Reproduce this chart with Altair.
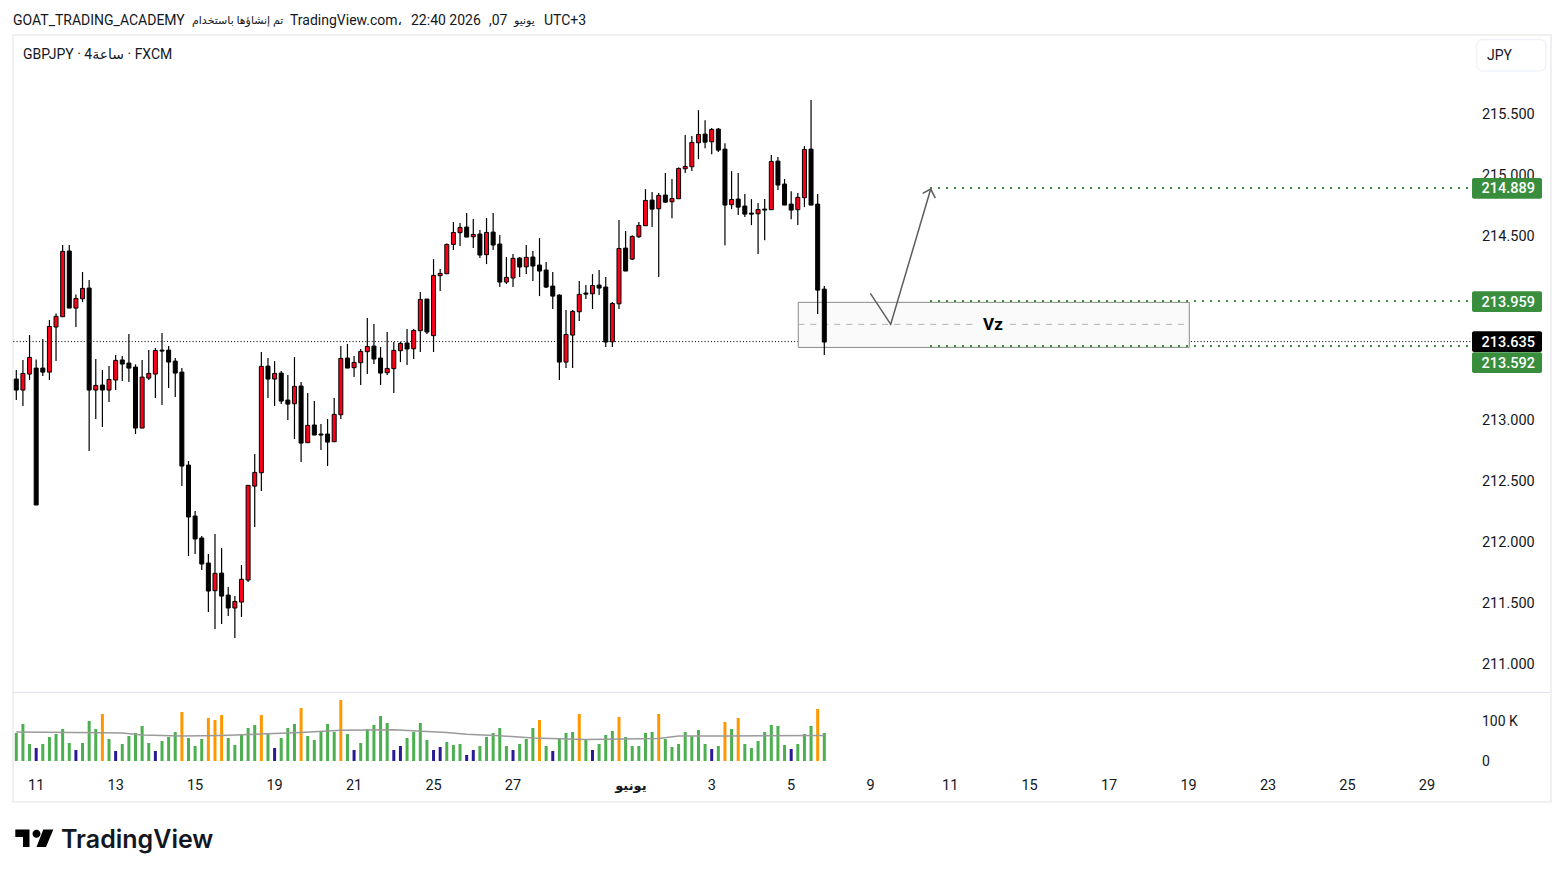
import altair as alt
import pandas as pd

opens = [213.328,213.238,213.369,213.418,213.418,213.385,213.754,213.838,214.376,213.909,
213.985,214.073,213.238,213.279,213.238,213.320,213.484,213.459,213.426,212.927,
213.336,213.369,213.565,213.565,213.475,213.385,212.624,212.207,212.027,211.822,
211.596,211.740,211.560,211.454,211.503,211.683,212.452,212.561,213.434,213.328,
213.377,213.156,213.126,213.271,212.807,212.952,212.878,212.878,212.815,213.036,
213.500,213.421,213.462,213.552,213.598,213.500,213.380,213.413,213.560,213.623,
213.576,213.724,213.983,213.683,214.174,214.190,214.430,214.526,214.572,214.493,
214.515,214.346,214.531,214.433,214.122,214.155,214.318,214.247,214.327,214.261,
214.220,214.089,214.015,213.467,213.688,213.879,214.032,214.026,214.097,214.081,
213.633,213.944,214.400,214.310,214.493,214.583,214.793,214.722,214.834,214.779,
214.804,215.049,215.066,215.262,215.333,215.270,215.374,215.210,214.755,214.801,
214.744,214.686,214.681,214.719,214.714,215.112,214.924,214.760,214.714,214.812,
215.210,214.760,214.064]
closes = [213.238,213.374,213.505,212.297,213.385,213.759,213.841,214.373,213.909,213.988,
214.070,213.238,213.276,213.238,213.325,213.481,213.451,213.418,212.927,213.344,
213.374,213.562,213.557,213.467,213.377,212.616,212.199,212.019,211.814,211.593,
211.738,211.552,211.454,211.508,211.689,212.458,212.564,213.432,213.328,213.374,
213.148,213.123,213.268,212.804,212.949,212.870,212.870,212.812,213.039,213.497,
213.418,213.464,213.554,213.595,213.492,213.377,213.415,213.563,213.620,213.574,
213.726,213.980,213.713,214.176,214.193,214.430,214.528,214.569,214.490,214.512,
214.343,214.528,214.425,214.122,214.160,214.316,214.245,214.324,214.253,214.212,
214.081,214.007,213.467,213.693,213.882,214.021,214.023,214.094,214.073,213.631,
213.947,214.397,214.212,214.495,214.585,214.790,214.719,214.831,214.776,214.806,
215.052,215.068,215.265,215.330,215.267,215.371,215.202,214.752,214.798,214.735,
214.678,214.678,214.716,214.711,215.109,214.916,214.752,214.711,214.815,215.207,
214.752,214.056,213.631]
highs = [213.402,213.484,213.688,213.489,213.655,213.811,213.865,214.425,214.425,214.021,
214.204,214.138,213.492,213.402,213.434,213.524,213.516,213.696,213.448,213.484,
213.565,213.582,213.705,213.598,213.500,213.418,212.657,212.248,212.043,211.896,
212.059,211.945,211.626,211.552,211.806,212.458,212.714,213.549,213.500,213.475,
213.394,213.361,213.508,213.304,213.214,213.148,212.960,213.001,213.173,213.598,
213.615,213.516,213.574,213.827,213.778,213.590,213.713,213.631,213.631,213.737,
213.737,214.040,213.983,214.310,214.228,214.438,214.613,214.605,214.687,214.638,
214.547,214.646,214.687,214.507,214.327,214.351,214.327,214.425,214.376,214.482,
214.286,214.204,214.023,213.893,213.893,214.130,214.097,214.187,214.220,214.163,
213.958,214.629,214.539,214.506,214.613,214.883,214.858,214.850,215.014,214.965,
215.060,215.325,215.317,215.529,215.447,215.382,215.382,215.259,215.030,215.014,
214.842,214.801,214.768,214.801,215.161,215.145,214.965,214.866,214.850,215.235,
215.611,214.842,214.089]
lows = [213.156,213.107,213.320,212.297,213.353,213.320,213.475,213.838,213.909,213.754,
213.958,212.739,213.001,212.935,213.140,213.238,213.312,213.303,212.878,212.927,
213.320,213.173,213.115,213.254,213.181,212.452,211.879,211.896,211.765,211.421,
211.282,211.323,211.388,211.208,211.380,211.667,212.117,212.412,213.173,213.107,
213.123,212.993,212.837,212.649,212.807,212.870,212.747,212.616,212.815,213.001,
213.418,213.344,213.279,213.369,213.451,213.279,213.361,213.214,213.467,213.443,
213.492,213.549,213.696,213.549,214.048,214.190,214.384,214.417,214.490,214.400,
214.318,214.269,214.384,214.081,214.106,214.081,214.163,214.187,214.130,214.007,
214.073,213.901,213.320,213.418,213.418,213.803,213.983,213.901,214.015,213.590,
213.590,213.901,214.212,214.302,214.482,214.583,214.572,214.163,214.768,214.645,
214.804,215.014,215.030,215.128,215.218,215.169,215.186,214.424,214.719,214.670,
214.654,214.588,214.351,214.465,214.714,214.875,214.752,214.637,214.588,214.735,
214.752,213.860,213.524]

volumes = [70,92.5,42.5,32.5,42.5,60,67.5,80,45,27.5,
45,100,80,117.5,55,25,42.5,62.5,70,87.5,
45,25,50,60,72.5,122.5,57.5,37.5,55,107.5,
102.5,115,57.5,40,65,82.5,90,115,70,32.5,
57.5,82.5,92.5,132.5,62.5,52.5,75,92.5,72.5,152.5,
67.5,27.5,45,80,90,112.5,95,27.5,37.5,57.5,
72.5,95,52.5,27.5,35,47.5,40,42.5,15,27.5,
37.5,60,70,82.5,37.5,27.5,42.5,55,82.5,102.5,
37.5,25,57.5,70,72.5,117.5,52.5,27.5,42.5,65,
75,110,60,37.5,37.5,70,72.5,117.5,55,35,
42.5,72.5,62.5,77.5,42.5,30,37.5,97.5,80,107.5,
42.5,32.5,50,72.5,90,87.5,40,30,42.5,67.5,
87.5,130,70]
volume_kinds = list("gggbgggggb" "gggogbgggg" "gbgggogggo" "oogggggogb" "gggogggggo" "gbgggggbbg"
                    "gggbbgggbb" "gggggbgggo" "gbgggogbgg" "gogggggogg" "gggggbgogo" "gggggggbgg" "gog")
ma_bars = [1,14,17,20,26,32,44,50,58,63,66,69,74,79,87,98,101,108,123]
ma_values = [72.5,70.8,70,65,62.5,64,71,76.7,78.3,74,71,66.7,63,57.5,54,56,62.5,62.5,64]

price_ticks = [215.5,215.0,214.5,213.0,212.5,212.0,211.5,211.0]
price_tick_labels = ["215.500","215.000","214.500","213.000","212.500","212.000","211.500","211.000"]
volume_ticks = [100,0]
volume_tick_labels = ["100 K","0"]
date_bars = [4,16,28,40,52,64,76,106,118,130,142,154,166,178,190,202,214]
date_labels = ["11","13","15","19","21","25","27","3","5","9","11","15","17","19","23","25","29"]
month_bar = 93.8
month_label = "يونيو"
tag_labels = ["214.889","213.959","213.635","213.592"]
tag_prices = [214.889,213.962,213.635,213.463]
tag_colors = ["#388e3c","#388e3c","#000000","#388e3c"]
level_prices = [214.891,213.966,213.598]
last_price = 213.635
zone_top, zone_bottom, zone_mid = 213.956, 213.587, 213.776
arrow_bars = [129.95,133.03,139.07]
arrow_prices = [214.029,213.776,214.883]
head_bars = [137.86,139.07,139.76]
head_prices = [214.848,214.883,214.809]
header_pieces = ["GOAT_TRADING_ACADEMY", "تم إنشاؤها باستخدام", "TradingView.com،", "22:40 2026", ",07", "يونيو", "UTC+3"]
header_x = [13, 192, 290, 411, 489, 514, 544]
header_sizes = [14, 11, 14, 14, 14, 11, 14]
legend = "GBPJPY · 4ساعة · FXCM"

FONT = "Roboto, DejaVu Sans"
INK = "#131722"
W, H = 1548, 861
one = pd.DataFrame({"a": [0]})

bars = pd.DataFrame({"i": range(1, 124), "o": opens, "c": closes, "h": highs, "l": lows, "v": volumes, "k": volume_kinds})
bars["zero"] = 0
bars["dir"] = ["up" if c > o else "down" for o, c in zip(opens, closes)]

xs = alt.Scale(domain=[-0.2532, 233.48], nice=False, zero=False, padding=0)
ps = alt.Scale(domain=[209.318, 216.365], nice=False, zero=False, padding=0)
vs = alt.Scale(domain=[-270, 1882.5], nice=False, zero=False, padding=0)
X = alt.X("i:Q", scale=xs, axis=None)
X2 = alt.X2("i2:Q")
Y = alt.Y("p:Q", scale=ps, axis=None)
Y2 = alt.Y2("p2:Q")
VY = alt.Y("p:Q", scale=vs, axis=None)
px = lambda v: alt.value(v - 8)


def pt(i, p, **extra):
    return pd.DataFrame({"i": i, "p": p, **extra})


frame = alt.Chart(one).mark_rect(fill="#ffffff", stroke="#f0f0f0", strokeWidth=2).encode(
    x=px(13), x2=px(1551), y=px(35), y2=px(802))
sep = alt.Chart(one).mark_rule(color="#e0e3eb", strokeWidth=1).encode(
    x=px(13), x2=px(1550), y=px(692.5))
pline = alt.Chart(pt([0.55], [last_price], i2=[220.8])).mark_rule(
    color="#000000", strokeWidth=1, strokeDash=[1, 2.2]).encode(x=X, x2=X2, y=Y)
zone = alt.Chart(pt([119.07], [zone_top], i2=[178.11], p2=[zone_bottom])).mark_rect(
    fill="#fafafa", stroke="#8a8a8a", strokeWidth=1).encode(x=X, x2=X2, y=Y, y2=Y2)
mids = alt.Chart(pt([119.07, 151.04], [zone_mid, zone_mid], i2=[145.75, 178.11])).mark_rule(
    color="#b2b2b2", strokeWidth=1, strokeDash=[6, 6]).encode(x=X, x2=X2, y=Y)
levels = alt.Chart(pt([138.96] * 3, level_prices, i2=[220.8] * 3)).mark_rule(
    color="#388e3c", strokeWidth=2, strokeDash=[2, 6]).encode(x=X, x2=X2, y=Y)

wicks = alt.Chart(bars).mark_rule(color="#000000", strokeWidth=1.2).encode(
    x=X, y=alt.Y("h:Q", scale=ps, axis=None), y2="l:Q")
dirscale = alt.Scale(domain=["up", "down"], range=["#fb0019", "#000000"])
bodies = alt.Chart(bars).mark_bar(size=4, stroke="#000000", strokeWidth=1, orient="vertical").encode(
    x=X, y=alt.Y("o:Q", scale=ps, axis=None), y2="c:Q",
    color=alt.Color("dir:N", scale=dirscale, legend=None))

kindscale = alt.Scale(domain=["g", "b", "o"], range=["#4caf50", "#2a1a96", "#ff9800"])
vbars = alt.Chart(bars).mark_bar(size=3, orient="vertical").encode(
    x=X, y=alt.Y("v:Q", scale=vs, axis=None), y2="zero:Q",
    color=alt.Color("k:N", scale=kindscale, legend=None))
maline = alt.Chart(pt(ma_bars, ma_values)).mark_line(color="#9a9a9a", strokeWidth=1.5).encode(x=X, y=VY)

shaft = alt.Chart(pt(arrow_bars, arrow_prices, n=[0, 1, 2])).mark_line(
    color="#5d5d5d", strokeWidth=1.5).encode(x=X, y=Y, order="n:Q")
head = alt.Chart(pt(head_bars, head_prices, n=[0, 1, 2])).mark_line(
    color="#5d5d5d", strokeWidth=1.5).encode(x=X, y=Y, order="n:Q")
vz = alt.Chart(pt([148.47], [213.774], t=["Vz"])).mark_text(
    font=FONT, fontSize=17, fontWeight="bold", color="#000000", dy=0.5).encode(x=X, y=Y, text="t:N")

ptick = alt.Chart(pt([222.3] * 8, price_ticks, t=price_tick_labels)).mark_text(
    font=FONT, fontSize=14.5, color=INK, align="left", dy=1.5).encode(x=X, y=Y, text="t:N")
vtick = alt.Chart(pt([222.3] * 2, volume_ticks, t=volume_tick_labels)).mark_text(
    font=FONT, fontSize=14, color=INK, align="left", dy=1).encode(x=X, y=VY, text="t:N")
dtick = alt.Chart(pd.DataFrame({"i": date_bars, "t": date_labels})).mark_text(
    font=FONT, fontSize=14.5, color=INK).encode(x=X, y=px(786), text="t:N")
mtick = alt.Chart(pd.DataFrame({"i": [month_bar], "t": [month_label]})).mark_text(
    font=FONT, fontSize=13, fontWeight="bold", color=INK).encode(x=X, y=px(786), text="t:N")

tags_df = pt([220.8] * 4, [v + 0.085 for v in tag_prices], i2=[231.37] * 4,
             p2=[v - 0.085 for v in tag_prices], col=tag_colors)
tags = alt.Chart(tags_df).mark_rect(cornerRadius=2).encode(
    x=X, x2=X2, y=Y, y2=Y2, color=alt.Color("col:N", scale=None))
tagtext = alt.Chart(pt([230.3] * 4, tag_prices, t=tag_labels)).mark_text(
    font=FONT, fontSize=14.5, fontWeight=500, color="#ffffff", align="right", dy=1).encode(x=X, y=Y, text="t:N")

btn = alt.Chart(one).mark_rect(fill="#ffffff", stroke="#f0f3fa", strokeWidth=1.5, cornerRadius=6).encode(
    x=px(1476.5), x2=px(1546), y=px(39.5), y2=px(71))
btntext = alt.Chart(pd.DataFrame({"t": ["JPY"]})).mark_text(
    font=FONT, fontSize=14, color=INK, align="left").encode(x=px(1487), y=px(56), text="t:N")
head_df = pd.DataFrame({"t": header_pieces, "hx": [v - 8 for v in header_x], "s": header_sizes})
headtxt = alt.Chart(head_df).mark_text(font=FONT, color=INK, align="left").encode(
    x=alt.X("hx:Q", scale=None, axis=None), y=px(21), text="t:N",
    size=alt.Size("s:Q", scale=None, legend=None))
legendtxt = alt.Chart(pd.DataFrame({"t": [legend]})).mark_text(
    font=FONT, fontSize=14, color=INK, align="left").encode(x=px(23), y=px(55), text="t:N")

LOGO = "M0.3 0.5H14.5V18H8V8H0.3Z M28.3 0.5H38.3L31 18H21.5Z M21.5 0.7a4 4 0 1 1 -0.01 0Z"
logo = alt.Chart(one).mark_point(shape=LOGO, size=4, filled=True, fill="#000000", opacity=1, strokeWidth=0).encode(
    x=px(15), y=px(829))
logotxt = alt.Chart(pd.DataFrame({"t": ["TradingView"]})).mark_text(
    font="Inter", fontSize=25, fontWeight=600, color="#131722", align="left").encode(x=px(61), y=px(840), text="t:N")

chart = alt.layer(
    frame, sep, ptick, vtick, dtick, mtick, pline, zone, mids, levels, vbars, maline, wicks, bodies,
    shaft, head, vz, tags, tagtext, btn, btntext, headtxt, legendtxt, logo, logotxt,
).resolve_scale(x="independent", y="independent", color="independent", size="independent").properties(
    width=W, height=H, padding=0, background="#ffffff",
    autosize=alt.AutoSizeParams(type="none"),
).configure_view(stroke=None)

chart.save("out.html", embed_options={"renderer": "svg", "actions": False})
